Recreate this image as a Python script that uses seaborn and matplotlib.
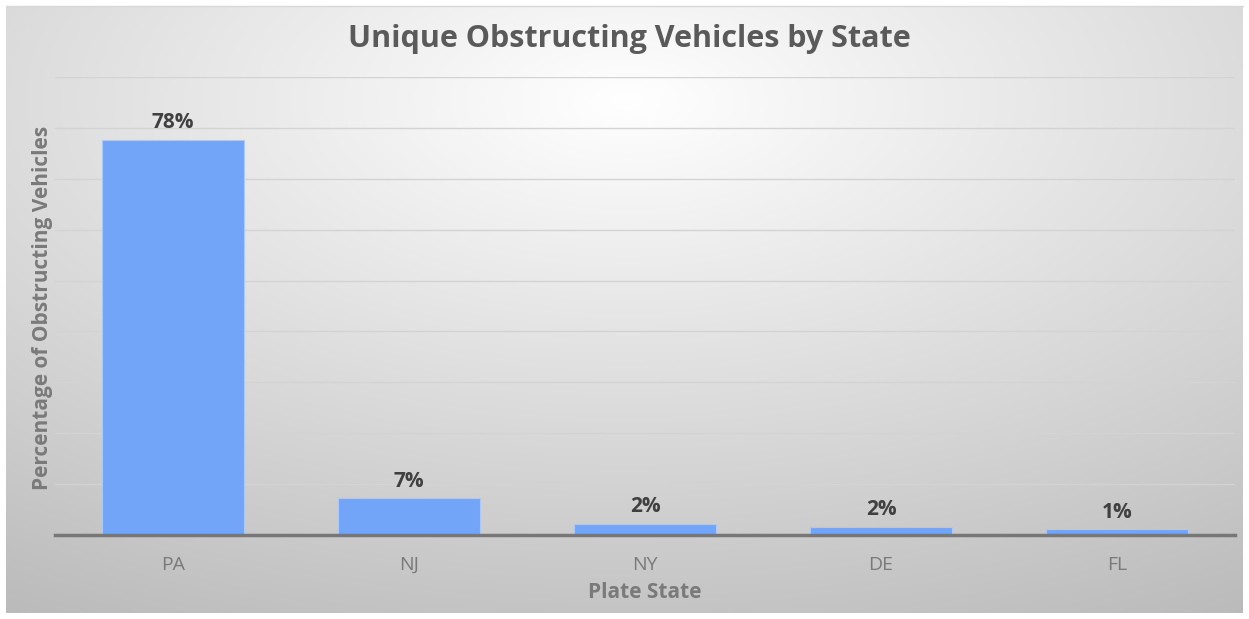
import numpy as np
import matplotlib
matplotlib.use("Agg")
import matplotlib.pyplot as plt
import seaborn as sns

states = ["PA", "NJ", "NY", "DE", "FL"]
shares = [0.776, 0.072, 0.022, 0.016, 0.011]
value_labels = ["78%", "7%", "2%", "2%", "1%"]
title = "Unique Obstructing Vehicles by State"
x_label = "Plate State"
y_label = "Percentage of Obstructing Vehicles"

sns.set_theme(style="white")
plt.rcParams['font.family'] = ['Open Sans', 'DejaVu Sans']

W, H = 1249, 619
fig = plt.figure(figsize=(W / 100, H / 100), dpi=100)
fig.patch.set_facecolor("white")

# radial gradient background panel
bx0, by0, bw, bh = 6, 6, 1237, 607
bg = fig.add_axes([bx0 / W, (H - by0 - bh) / H, bw / W, bh / H])
yy, xx = np.mgrid[0:bh, 0:bw]
cx, cy = 620, 95
r = np.sqrt(((xx - cx) / bw) ** 2 + ((yy - cy) / bh) ** 2)
g = np.clip(255 - 70 * r, 185, 255) / 255.0
img = np.dstack([g, g, g])
bg.imshow(img, aspect="auto", extent=[0, 1, 0, 1], origin="upper")
bg.set_axis_off()
fig.add_artist(plt.Line2D([bx0 / W, (bx0 + bw) / W], [1 - bx0 / H, 1 - bx0 / H],
                          color="#d8d8d8", lw=1))

# main axes
ax = fig.add_axes([55 / W, (H - 535) / H, 1180 / W, 458 / H])
ax.set_facecolor("none")
sns.barplot(x=states, y=shares, color="#72a5f8", saturation=1, width=0.6,
            edgecolor="#a9c9fb", linewidth=0.8, ax=ax, zorder=3)
ax.set_xlim(-0.5, 4.5)
ax.set_ylim(0, 0.9)
ax.set_yticks(np.arange(0.1, 0.91, 0.1))
ax.yaxis.grid(True, color="#d3d3d3", lw=1)
ax.set_axisbelow(True)
ax.set_yticklabels([])
for s in ["left", "right", "top"]:
    ax.spines[s].set_visible(False)
ax.spines["bottom"].set_color("#777777")
ax.spines["bottom"].set_linewidth(2.5)
ax.spines["bottom"].set_zorder(5)
ax.tick_params(axis="both", length=0)
ax.tick_params(axis="x", pad=15, labelsize=14, labelcolor="#7a7a7a")

for i, (v, lab) in enumerate(zip(shares, value_labels)):
    ax.text(i, v + 0.013, lab, ha="center", va="bottom", fontsize=15,
            fontweight="bold", color="#404040")

ax.set_xlabel(x_label, fontsize=15, fontweight="bold", color="#7a7a7a")
ax.xaxis.set_label_coords(0.5, -0.1245)
ax.xaxis.label.set_va("center")
ax.set_ylabel(y_label, fontsize=15, fontweight="bold", color="#7a7a7a")
ax.yaxis.set_label_coords(-0.011, 0.4956)
ax.yaxis.label.set_va("center")

fig.text(629 / W, 1 - 39 / H, title, ha="center", va="center", fontsize=22,
         fontweight="bold", color="#5a5a5a")

fig.savefig("out.png", dpi=100)
